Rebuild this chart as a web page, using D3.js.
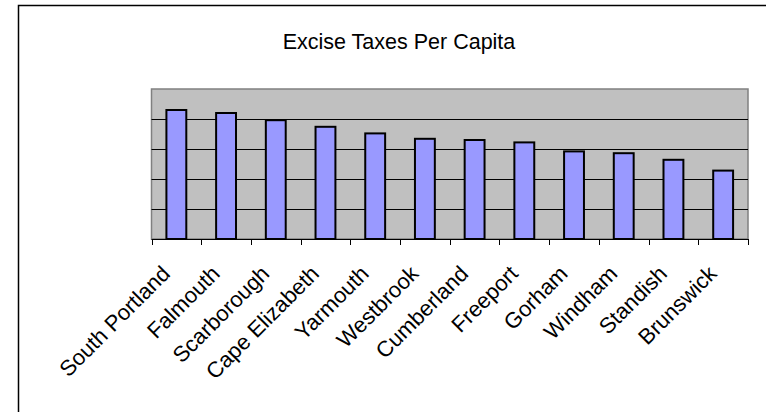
<!DOCTYPE html>
<html><head><meta charset="utf-8">
<script src="https://cdn.jsdelivr.net/npm/d3@7"></script>
<style>html,body{margin:0;padding:0;background:#fff;}svg{display:block;}</style>
</head><body>
<script>
const categories = ["South Portland","Falmouth","Scarborough","Cape Elizabeth","Yarmouth","Westbrook","Cumberland","Freeport","Gorham","Windham","Standish","Brunswick"];
const values = [215,210,198,187,176,167,165,161,146,143,132,114];
const yTicks = [50,100,150,200];
const title = "Excise Taxes Per Capita";

const W = 766, H = 412;
const svg = d3.select("body").append("svg").attr("width", W).attr("height", H);

// chart frame
svg.append("path").attr("d", "M18.5,420 V5.5 H780").attr("fill","none").attr("stroke","#000").attr("stroke-width",1.5);

const plot = {left:151.5, right:748, top:89, bottom:239};
const x = d3.scaleBand().domain(categories).range([plot.left, plot.right]).paddingInner(0.6).paddingOuter(0.3);
const y = d3.scaleLinear().domain([0,250]).range([plot.bottom, plot.top]);

svg.append("rect").attr("x", plot.left).attr("y", plot.top).attr("width", plot.right-plot.left).attr("height", plot.bottom-plot.top)
  .attr("fill","#C0C0C0").attr("stroke","#808080").attr("stroke-width",1.5);

svg.append("g").selectAll("line").data(yTicks).join("line")
  .attr("x1", plot.left).attr("x2", plot.right).attr("y1", d=>Math.round(y(d))+0.5).attr("y2", d=>Math.round(y(d))+0.5)
  .attr("stroke","#000").attr("stroke-width",1);

svg.append("g").selectAll("rect").data(categories).join("rect")
  .attr("x", (d)=>x(d)).attr("width", x.bandwidth())
  .attr("y", (d,i)=>y(values[i])).attr("height",(d,i)=>plot.bottom-y(values[i]))
  .attr("fill","#9999FF").attr("stroke","#000").attr("stroke-width",2);

// x axis line
svg.append("line").attr("x1",plot.left).attr("x2",plot.right).attr("y1",plot.bottom+0.5).attr("y2",plot.bottom+0.5).attr("stroke","#000").attr("stroke-width",1);
// ticks at category boundaries
const bounds = d3.range(categories.length+1).map(i => plot.left + i*(plot.right-plot.left)/categories.length);
svg.append("g").selectAll("line").data(bounds).join("line")
  .attr("x1", d=>Math.round(d)+0.5).attr("x2", d=>Math.round(d)+0.5).attr("y1", plot.bottom).attr("y2", plot.bottom+6)
  .attr("stroke","#000").attr("stroke-width",1);

// labels
svg.append("g").selectAll("text").data(categories).join("text")
  .attr("transform", d=>`translate(${x(d)+x.bandwidth()/2-5},${plot.bottom+36}) rotate(-45)`)
  .attr("text-anchor","end")
  .attr("font-family","'Liberation Sans', Arial, sans-serif").attr("font-size",22)
  .attr("fill","#000").text(d=>d);

svg.append("text").attr("x", 399).attr("y", 49).attr("text-anchor","middle")
  .attr("font-family","'Liberation Sans', Arial, sans-serif").attr("font-size",21.5)
  .attr("fill","#000").text(title);
</script>
</body></html>
